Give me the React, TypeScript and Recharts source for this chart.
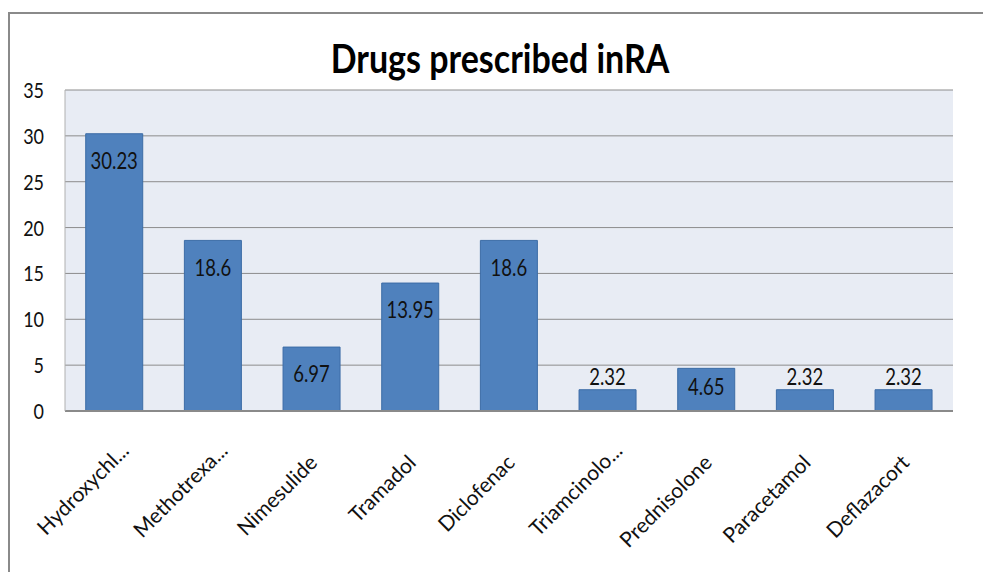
import React from "react";
import { BarChart, Bar, XAxis, YAxis, CartesianGrid, LabelList } from "recharts";

const drugs = [
  "Hydroxychl...",
  "Methotrexa...",
  "Nimesulide",
  "Tramadol",
  "Diclofenac",
  "Triamcinolo...",
  "Prednisolone",
  "Paracetamol",
  "Deflazacort",
];
const percent = [30.23, 18.6, 6.97, 13.95, 18.6, 2.32, 4.65, 2.32, 2.32];
const yTicks = [0, 5, 10, 15, 20, 25, 30, 35];

const data = drugs.map((name, i) => ({ name, value: percent[i] }));

const FONT = "Lato, 'Open Sans', sans-serif";
const BAR_FILL = "#4F81BD";
const BAR_EDGE = "#3C6CA6";
const PLOT_BG = "#E8ECF4";
const GRID = "#8C8C8C";
const INK = "#111";

// text stretched vertically around its anchor point
function Tall({ x, y, sy, children, ...rest }: any) {
  return (
    <text transform={`translate(${x},${y}) scale(1,${sy})`} x={0} y={0} {...rest}>
      {children}
    </text>
  );
}

function DrugTick(props: any) {
  const { x, y, payload } = props;
  const cut = String(payload.value).endsWith("...");
  const ax = x + (cut ? 16 : 7);
  const ay = y + (cut ? 33 : 45);
  return (
    <text
      x={ax}
      y={ay}
      transform={`rotate(-45, ${ax}, ${ay})`}
      textAnchor="end"
      fontFamily={FONT}
      fontSize={21}
      fill={INK}
    >
      {payload.value}
    </text>
  );
}

function PercentTick(props: any) {
  const { x, y, payload } = props;
  return (
    <Tall x={x} y={y} sy={1.15} textAnchor="end" dominantBaseline="central" fontFamily={FONT} fontSize={18} fill={INK}>
      {payload.value}
    </Tall>
  );
}

// inside-end labels; short bars get their label above the bar
function ValueLabel(props: any) {
  const { x, y, width, height, value } = props;
  const cx = x + width / 2;
  const cy = height < 30 ? y - 14 : y + Math.min(26, height / 2 - 4);
  return (
    <Tall x={cx} y={cy} sy={1.25} textAnchor="middle" dominantBaseline="central" fontFamily={FONT} fontSize={18.5} fill={INK}>
      {value}
    </Tall>
  );
}

export default function App() {
  return (
    <div style={{ position: "absolute", left: 0, top: 0, width: 983, height: 572, background: "#fff", overflow: "hidden" }}>
      <div
        style={{
          position: "absolute",
          left: 8,
          top: 12,
          width: 1000,
          height: 600,
          borderLeft: "2px solid #8A8A8A",
          borderTop: "2px solid #8A8A8A",
        }}
      />
      <div style={{ position: "absolute", left: 0, top: 0 }}>
        <BarChart
          width={983}
          height={572}
          data={data}
          margin={{ top: 90, right: 30, bottom: 0, left: 8 }}
          barCategoryGap="21%"
        >
          <CartesianGrid stroke={GRID} vertical={false} fill={PLOT_BG} fillOpacity={1} />
          <XAxis
            dataKey="name"
            interval={0}
            tick={<DrugTick />}
            tickLine={false}
            axisLine={{ stroke: "#8A8A8A", strokeWidth: 2 }}
            height={161}
          />
          <YAxis
            domain={[0, 35]}
            ticks={yTicks}
            width={57}
            tickSize={0}
            tickMargin={21}
            axisLine={{ stroke: "#B0B0B0" }}
            tickLine={false}
            tick={<PercentTick />}
          />
          <Bar dataKey="value" fill={BAR_FILL} stroke={BAR_EDGE} strokeWidth={1} isAnimationActive={false}>
            <LabelList dataKey="value" content={<ValueLabel />} />
          </Bar>
        </BarChart>
      </div>
      <svg width={983} height={100} style={{ position: "absolute", left: 0, top: 0 }}>
        <Tall x={500} y={73} sy={1.15} textAnchor="middle" fontFamily={FONT} fontWeight={700} fontSize={34} fill="#000">
          Drugs prescribed inRA
        </Tall>
      </svg>
    </div>
  );
}
